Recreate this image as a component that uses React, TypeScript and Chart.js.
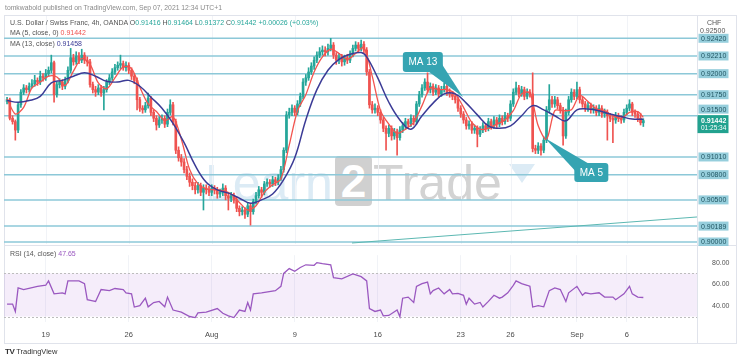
import React, { useEffect, useRef } from 'react';
import { Chart, registerables } from 'chart.js';

Chart.register(...registerables);

// ---------- data ----------
const firstOpen = 0.9167;
const closes = [
  0.9169,0.9147,0.9143,0.9133,0.9163,0.9178,0.9183,0.9181,0.9185,0.9188,
  0.9192,0.9190,0.9197,0.9195,0.9200,0.9204,0.9213,0.9175,0.9187,0.9190,
  0.9185,0.9192,0.9204,0.9219,0.9214,0.9221,0.9216,0.9222,0.9216,0.9214,
  0.9187,0.9181,0.9178,0.9183,0.9177,0.9181,0.9190,0.9195,0.9202,0.9207,
  0.9210,0.9212,0.9207,0.9210,0.9204,0.9197,0.9192,0.9169,0.9159,0.9157,
  0.9162,0.9171,0.9154,0.9147,0.9139,0.9145,0.9147,0.9140,0.9154,0.9163,
  0.9143,0.9109,0.9100,0.9095,0.9086,0.9078,0.9071,0.9067,0.9062,0.9067,
  0.9059,0.9064,0.9062,0.9059,0.9064,0.9062,0.9057,0.9059,0.9064,0.9055,
  0.9052,0.9055,0.9050,0.9040,0.9036,0.9038,0.9033,0.9043,0.9036,0.9048,
  0.9055,0.9062,0.9059,0.9069,0.9071,0.9069,0.9074,0.9071,0.9076,0.9086,
  0.9109,0.9151,0.9154,0.9159,0.9154,0.9164,0.9173,0.9190,0.9195,0.9202,
  0.9209,0.9216,0.9222,0.9226,0.9228,0.9226,0.9230,0.9234,0.9222,0.9216,
  0.9220,0.9214,0.9219,0.9216,0.9223,0.9230,0.9234,0.9230,0.9235,0.9228,
  0.9202,0.9163,0.9157,0.9159,0.9154,0.9145,0.9135,0.9129,0.9135,0.9126,
  0.9131,0.9124,0.9133,0.9138,0.9143,0.9140,0.9147,0.9143,0.9164,0.9175,
  0.9183,0.9190,0.9181,0.9185,0.9178,0.9183,0.9176,0.9181,0.9185,0.9178,
  0.9176,0.9173,0.9169,0.9159,0.9152,0.9145,0.9138,0.9140,0.9133,0.9135,
  0.9128,0.9133,0.9138,0.9135,0.9143,0.9138,0.9145,0.9140,0.9147,0.9143,
  0.9150,0.9147,0.9164,0.9178,0.9183,0.9176,0.9181,0.9173,0.9178,0.9176,
  0.9111,0.9109,0.9114,0.9109,0.9121,0.9157,0.9169,0.9164,0.9169,0.9162,
  0.9157,0.9126,0.9154,0.9169,0.9178,0.9173,0.9181,0.9169,0.9164,0.9159,
  0.9162,0.9157,0.9159,0.9154,0.9159,0.9152,0.9154,0.9150,0.9147,0.9145,
  0.9150,0.9147,0.9145,0.9154,0.9159,0.9164,0.9154,0.9152,0.9147,0.91416,
  0.91442,
];
const highs = [
  0.9172,0.9171,0.9150,0.9145,0.9166,0.9181,0.9187,0.9186,0.9189,0.9193,
  0.9198,0.9195,0.9203,0.9200,0.9205,0.9208,0.9222,0.9215,0.9190,0.9194,
  0.9193,0.9196,0.9208,0.9230,0.9223,0.9226,0.9225,0.9229,0.9225,0.9220,
  0.9217,0.9190,0.9185,0.9187,0.9186,0.9185,0.9193,0.9199,0.9206,0.9211,
  0.9214,0.9222,0.9215,0.9214,0.9213,0.9207,0.9200,0.9195,0.9172,0.9162,
  0.9166,0.9177,0.9173,0.9157,0.9150,0.9149,0.9151,0.9150,0.9158,0.9169,
  0.9166,0.9146,0.9113,0.9104,0.9099,0.9090,0.9082,0.9075,0.9071,0.9071,
  0.9070,0.9068,0.9068,0.9066,0.9068,0.9067,0.9065,0.9063,0.9069,0.9067,
  0.9058,0.9059,0.9058,0.9053,0.9043,0.9042,0.9041,0.9046,0.9046,0.9051,
  0.9059,0.9066,0.9065,0.9072,0.9075,0.9074,0.9078,0.9077,0.9080,0.9090,
  0.9112,0.9155,0.9159,0.9163,0.9162,0.9168,0.9177,0.9194,0.9199,0.9207,
  0.9213,0.9220,0.9226,0.9231,0.9233,0.9232,0.9235,0.9242,0.9237,0.9225,
  0.9224,0.9223,0.9222,0.9223,0.9227,0.9234,0.9238,0.9237,0.9240,0.9238,
  0.9231,0.9205,0.9167,0.9164,0.9162,0.9157,0.9148,0.9138,0.9139,0.9138,
  0.9135,0.9134,0.9137,0.9142,0.9147,0.9146,0.9151,0.9150,0.9167,0.9179,
  0.9187,0.9194,0.9201,0.9189,0.9188,0.9187,0.9186,0.9185,0.9189,0.9188,
  0.9182,0.9179,0.9176,0.9172,0.9162,0.9155,0.9148,0.9144,0.9143,0.9139,
  0.9138,0.9137,0.9142,0.9141,0.9147,0.9146,0.9149,0.9148,0.9151,0.9150,
  0.9154,0.9153,0.9168,0.9182,0.9190,0.9186,0.9185,0.9184,0.9182,0.9181,
  0.9201,0.9115,0.9118,0.9117,0.9125,0.9161,0.9187,0.9173,0.9173,0.9172,
  0.9165,0.9160,0.9158,0.9173,0.9182,0.9181,0.9190,0.9184,0.9172,0.9167,
  0.9166,0.9165,0.9163,0.9162,0.9163,0.9162,0.9158,0.9157,0.9153,0.9150,
  0.9154,0.9153,0.9150,0.9158,0.9163,0.9169,0.9166,0.9157,0.9155,0.9153,
  0.91464,
];
const lows = [
  0.9164,0.9145,0.9140,0.9121,0.9130,0.9160,0.9175,0.9177,0.9178,0.9183,
  0.9185,0.9186,0.9187,0.9191,0.9192,0.9197,0.9201,0.9166,0.9172,0.9183,
  0.9181,0.9182,0.9189,0.9201,0.9210,0.9211,0.9212,0.9213,0.9212,0.9209,
  0.9184,0.9177,0.9173,0.9175,0.9173,0.9157,0.9178,0.9187,0.9192,0.9199,
  0.9204,0.9206,0.9204,0.9203,0.9200,0.9193,0.9188,0.9157,0.9155,0.9153,
  0.9154,0.9159,0.9150,0.9143,0.9133,0.9136,0.9141,0.9136,0.9137,0.9151,
  0.9139,0.9105,0.9096,0.9090,0.9082,0.9074,0.9066,0.9062,0.9057,0.9058,
  0.9055,0.9038,0.9057,0.9055,0.9055,0.9057,0.9052,0.9053,0.9055,0.9050,
  0.9038,0.9048,0.9046,0.9036,0.9031,0.9032,0.9028,0.9030,0.9020,0.9033,
  0.9045,0.9052,0.9053,0.9056,0.9066,0.9065,0.9066,0.9067,0.9068,0.9073,
  0.9083,0.9106,0.9147,0.9150,0.9150,0.9151,0.9161,0.9170,0.9186,0.9192,
  0.9199,0.9205,0.9213,0.9219,0.9222,0.9221,0.9222,0.9227,0.9218,0.9211,
  0.9212,0.9209,0.9210,0.9212,0.9213,0.9220,0.9227,0.9226,0.9227,0.9224,
  0.9198,0.9159,0.9153,0.9153,0.9150,0.9141,0.9131,0.9109,0.9125,0.9121,
  0.9122,0.9103,0.9121,0.9130,0.9134,0.9136,0.9137,0.9139,0.9140,0.9161,
  0.9172,0.9180,0.9177,0.9177,0.9174,0.9175,0.9172,0.9173,0.9178,0.9174,
  0.9172,0.9169,0.9165,0.9155,0.9148,0.9141,0.9134,0.9134,0.9129,0.9129,
  0.9113,0.9125,0.9130,0.9131,0.9132,0.9134,0.9135,0.9136,0.9137,0.9139,
  0.9140,0.9143,0.9144,0.9161,0.9175,0.9172,0.9173,0.9169,0.9170,0.9172,
  0.9107,0.9105,0.9105,0.9103,0.9106,0.9118,0.9154,0.9160,0.9160,0.9158,
  0.9153,0.9115,0.9123,0.9151,0.9166,0.9169,0.9170,0.9165,0.9160,0.9155,
  0.9155,0.9153,0.9153,0.9150,0.9150,0.9148,0.9148,0.9121,0.9143,0.9118,
  0.9141,0.9143,0.9141,0.9142,0.9151,0.9156,0.9150,0.9148,0.9143,0.9139,
  0.91372,
];

const ma5Bars = [0,3,6,9,12,15,18,21,24,27,30,33,36,39,42,45,48,51,54,57,60,63,66,69,72,75,78,81,84,87,90,93,96,99,102,105,108,111,114,117,120,123,126,129,132,135,138,141,144,147,150,153,156,159,162,165,168,171,174,177,180,183,186,189,192,195,198,201,204,207,210,213,216,219,222,225,228,230];
const ma5Values = [0.9170,0.9152,0.9160,0.9183,0.9190,0.9197,0.9196,0.9186,0.9203,0.9218,0.9211,0.9189,0.9182,0.9195,0.9208,0.9206,0.9184,0.9164,0.9155,0.9144,0.9149,0.9122,0.9086,0.9069,0.9063,0.9062,0.9061,0.9057,0.9047,0.9038,0.9043,0.9059,0.9068,0.9075,0.9115,0.9156,0.9175,0.9202,0.9220,0.9229,0.9224,0.9217,0.9224,0.9231,0.9197,0.9156,0.9140,0.9129,0.9134,0.9142,0.9162,0.9183,0.9181,0.9181,0.9176,0.9160,0.9142,0.9134,0.9135,0.9140,0.9145,0.9156,0.9176,0.9177,0.9138,0.9122,0.9156,0.9156,0.9157,0.9174,0.9167,0.9158,0.9156,0.9150,0.9147,0.9154,0.9155,0.9148];

const ma13Bars = [0,4,8,12,16,20,24,28,32,36,40,44,48,52,56,60,64,68,72,76,80,84,88,92,96,100,104,108,112,116,120,124,128,130,134,138,142,146,150,154,158,162,166,170,174,178,182,186,190,194,198,202,206,210,214,218,222,226,230];
const ma13Values = [0.9168,0.9166,0.9168,0.9173,0.9189,0.9192,0.9197,0.9201,0.9197,0.9191,0.9190,0.9192,0.9185,0.9172,0.9159,0.9141,0.9118,0.9091,0.9071,0.9062,0.9058,0.9052,0.9046,0.9050,0.9057,0.9074,0.9100,0.9145,0.9181,0.9204,0.9217,0.9223,0.9225,0.9220,0.9195,0.9166,0.9145,0.9134,0.9150,0.9165,0.9176,0.9176,0.9165,0.9151,0.9138,0.9135,0.9138,0.9150,0.9162,0.9157,0.9150,0.9144,0.9157,0.9158,0.9156,0.9152,0.9149,0.9146,0.91458];

const rsiBars = [0,2,3,4,6,11,14,15,17,20,21,22,26,28,29,31,32,34,37,39,42,43,45,46,48,50,51,53,55,57,58,60,63,66,68,69,72,76,78,80,82,84,86,87,88,89,92,97,99,100,102,104,106,108,111,112,114,117,118,121,125,128,130,131,133,135,136,138,141,142,143,145,147,148,150,152,153,154,156,158,160,161,163,165,166,167,169,171,172,174,176,178,179,181,183,184,186,188,189,190,192,194,196,198,200,202,203,206,208,209,211,214,216,219,220,223,225,226,228,230];
const rsiValues = [41.5,41.5,34.7,56.5,55,58,59,63,51,52,51,63,63,60.5,45.6,44.5,44,55,54,56,55,52,51,38.8,40,47,39,43,44,39,48,36,34,30,29,33.3,34,37.4,33,30.6,29,36,34.7,43,36,51,52,54,58,70,74.5,72,75.5,78,77.5,80,79,78,66,65,69.5,67,63,37.4,34.7,36,30.6,31,36,29.8,47,48,43,58,60.5,62,51,54,56.5,51,55,51,51.5,49.7,41.5,47,41.5,43,38.8,44,49.7,47,48,52,59,63,60.5,59,58,38.8,40,39,54,56.5,55,44,52,58,49.7,52,51,52,48,48,45.6,51,58,51,48,47.65];

const levelValues = [0.9242, 0.9221, 0.92, 0.9175, 0.915, 0.9101, 0.908, 0.905, 0.90189, 0.9];
const levelLabels = ['0.92420','0.92210','0.92000','0.91750','0.91500','0.91010','0.90800','0.90500','0.90189','0.90000'];
const trendBars = [124.7, 249.4];
const trendValues = [0.89988, 0.90297];
const lastPrice = 0.91442;
const lastPriceLabel = '0.91442';
const countdownLabel = '01:25:34';
const topPriceTick = 0.925;
const topPriceLabel = '0.92500';

const dateTickBars = [14, 44, 74, 104, 134, 164, 182, 206, 224];
const dateTickLabels = ['19', '26', 'Aug', '9', '16', '23', '26', 'Sep', '6'];
const rsiTicks = [80, 60, 40];

const calloutTexts = ['MA 13', 'MA 5'];
const calloutBars = [150.3, 211.2];
const calloutPrices = [0.92139, 0.90826];
const calloutTipBars = [164.8, 194.4];
const calloutTipPrices = [0.91723, 0.91236];

// ---------- style ----------
const FONT = "'Liberation Sans', Arial, sans-serif";
const GREEN = '#26a69a';
const RED = '#ef5350';
const MA5_COLOR = '#f2544f';
const MA13_COLOR = '#3b3b96';
const RSI_COLOR = '#9a58c0';
const LEVEL_COLOR = '#8cc8d8';
const CALLOUT_COLOR = '#35a4b2';
const X_MIN = -1.1;
const X_MAX = 249.4;

const mainPlugin = {
  id: 'mainDecor',
  beforeDatasetsDraw(chart: any) {
    const { ctx, chartArea: a, scales } = chart;
    const x = scales.x, y = scales.y;
    ctx.save();
    ctx.strokeStyle = '#f1f3f7';
    ctx.lineWidth = 1;
    dateTickBars.forEach((b) => {
      const px = Math.round(x.getPixelForValue(b)) + 0.5;
      ctx.beginPath(); ctx.moveTo(px, a.top); ctx.lineTo(px, a.bottom); ctx.stroke();
    });
    ctx.strokeStyle = LEVEL_COLOR;
    ctx.lineWidth = 1.5;
    levelValues.forEach((v) => {
      const py = y.getPixelForValue(v);
      ctx.beginPath(); ctx.moveTo(a.left, py); ctx.lineTo(a.right, py); ctx.stroke();
    });
    ctx.restore();
  },
  afterDatasetsDraw(chart: any) {
    const { ctx, scales } = chart;
    const x = scales.x, y = scales.y;
    ctx.save();
    calloutTexts.forEach((t, i) => {
      const cx = x.getPixelForValue(calloutBars[i]);
      const cy = y.getPixelForValue(calloutPrices[i]);
      const tx = x.getPixelForValue(calloutTipBars[i]);
      const ty = y.getPixelForValue(calloutTipPrices[i]);
      const w = i === 0 ? 40 : 34, h = i === 0 ? 20 : 19;
      const L = cx - w / 2, T = cy - h / 2, R = cx + w / 2, B = cy + h / 2;
      ctx.fillStyle = CALLOUT_COLOR;
      ctx.beginPath();
      if (tx > R) { ctx.moveTo(R - 15, B - 1); ctx.lineTo(tx, ty); ctx.lineTo(R - 1, B - 8); }
      else { ctx.moveTo(L + 1, T + 8); ctx.lineTo(tx, ty); ctx.lineTo(L + 15, T + 1); }
      ctx.closePath(); ctx.fill();
      ctx.beginPath();
      (ctx as any).roundRect(L, T, w, h, 3);
      ctx.fill();
      ctx.fillStyle = '#ffffff';
      ctx.font = `10px ${FONT}`;
      ctx.textAlign = 'center'; ctx.textBaseline = 'middle';
      ctx.fillText(t, cx, cy + 0.5);
    });
    ctx.restore();
  },
  afterDraw(chart: any) {
    const { ctx, chartArea: a, scales } = chart;
    const y = scales.y;
    ctx.save();
    ctx.textBaseline = 'middle';
    ctx.textAlign = 'left';
    ctx.font = `7px ${FONT}`;
    ctx.fillStyle = '#555';
    ctx.fillText(topPriceLabel, a.right + 3, y.getPixelForValue(topPriceTick) - 1);
    const lastY = y.getPixelForValue(lastPrice);
    const boxTop = lastY - 5.5;
    levelValues.forEach((v, i) => {
      let ly = y.getPixelForValue(v);
      if (Math.abs(ly - lastY) < 12) ly = boxTop - 6;
      ctx.fillStyle = 'rgba(120,192,210,0.78)';
      ctx.fillRect(a.right + 1.5, ly - 4.5, 30, 9);
      ctx.fillStyle = '#1f5461';
      ctx.fillText(levelLabels[i], a.right + 4, ly + 0.5);
    });
    ctx.fillStyle = '#22a28f';
    ctx.fillRect(a.right + 0.5, boxTop, 31, 18);
    ctx.fillStyle = '#ffffff';
    ctx.font = `bold 7px ${FONT}`;
    ctx.fillText(lastPriceLabel, a.right + 4, lastY + 0.5);
    ctx.font = `6.5px ${FONT}`;
    ctx.fillText(countdownLabel, a.right + 4, lastY + 7.5);
    ctx.restore();
  },
};

const rsiPlugin = {
  id: 'rsiDecor',
  beforeDatasetsDraw(chart: any) {
    const { ctx, chartArea: a, scales } = chart;
    const y = scales.y;
    const y70 = y.getPixelForValue(70), y30 = y.getPixelForValue(30);
    ctx.save();
    ctx.fillStyle = 'rgba(170, 110, 210, 0.12)';
    ctx.fillRect(a.left, y70, a.right - a.left, y30 - y70);
    ctx.strokeStyle = '#bdbdbd';
    ctx.setLineDash([2, 2]);
    ctx.lineWidth = 1;
    [y70, y30].forEach((py) => {
      const p = Math.round(py) + 0.5;
      ctx.beginPath(); ctx.moveTo(a.left, p); ctx.lineTo(a.right, p); ctx.stroke();
    });
    ctx.restore();
  },
};

export default function App() {
  const mainRef = useRef<HTMLCanvasElement>(null);
  const rsiRef = useRef<HTMLCanvasElement>(null);

  useEffect(() => {
    const opens = closes.map((c, i) => (i === 0 ? firstOpen : closes[i - 1]));
    const candleColor = (ctx: any) => (closes[ctx.dataIndex] >= opens[ctx.dataIndex] ? GREEN : RED);

    const main = new Chart(mainRef.current as HTMLCanvasElement, {
      type: 'bar',
      data: {
        datasets: [
          {
            type: 'line', label: 'trend',
            data: trendBars.map((b, i) => ({ x: b, y: trendValues[i] })),
            borderColor: '#5cb8b2', borderWidth: 1, pointRadius: 0, order: 5,
          } as any,
          {
            type: 'bar', label: 'wick',
            data: closes.map((_, i) => ({ x: i, y: [lows[i], highs[i]] })),
            backgroundColor: candleColor, barThickness: 1, grouped: false, borderWidth: 0, order: 4,
          } as any,
          {
            type: 'bar', label: 'body',
            data: closes.map((c, i) => ({ x: i, y: [opens[i], c] })),
            backgroundColor: candleColor, barThickness: 2, grouped: false, borderWidth: 0, minBarLength: 1, order: 3,
          } as any,
          {
            type: 'line', label: 'MA 5',
            data: ma5Bars.map((b, i) => ({ x: b, y: ma5Values[i] })),
            borderColor: MA5_COLOR, borderWidth: 1.3, pointRadius: 0, tension: 0.3, order: 2,
          } as any,
          {
            type: 'line', label: 'MA 13',
            data: ma13Bars.map((b, i) => ({ x: b, y: ma13Values[i] })),
            borderColor: MA13_COLOR, borderWidth: 1.5, pointRadius: 0, tension: 0.4, order: 1,
          } as any,
        ],
      },
      options: {
        responsive: false,
        animation: false,
        events: [],
        layout: { padding: { left: 4, top: 16, bottom: 2, right: 0 } },
        plugins: { legend: { display: false }, tooltip: { enabled: false } },
        scales: {
          x: { type: 'linear', min: X_MIN, max: X_MAX, display: false, offset: false },
          y: {
            position: 'right', min: 0.89976, max: 0.92685,
            grid: { display: false }, border: { display: false },
            ticks: { display: false },
            afterFit: (s: any) => { s.width = 43; },
          },
        },
      } as any,
      plugins: [mainPlugin],
    });

    const rsi = new Chart(rsiRef.current as HTMLCanvasElement, {
      type: 'line',
      data: {
        datasets: [
          {
            label: 'RSI',
            data: rsiBars.map((b, i) => ({ x: b, y: rsiValues[i] })),
            borderColor: RSI_COLOR, borderWidth: 1.3, pointRadius: 0, tension: 0,
          },
        ],
      },
      options: {
        responsive: false,
        animation: false,
        events: [],
        layout: { padding: { left: 4, top: 2, bottom: 0, right: 0 } },
        plugins: { legend: { display: false }, tooltip: { enabled: false } },
        scales: {
          x: {
            type: 'linear', min: X_MIN, max: X_MAX, offset: false,
            grid: { color: '#f1f3f7', drawTicks: false },
            border: { display: false },
            ticks: {
              padding: 8, maxRotation: 0, autoSkip: false, color: '#4a4a4a',
              font: { size: 7.5, family: FONT },
              callback: (v: any) => {
                const k = dateTickBars.indexOf(Number(v));
                return k >= 0 ? dateTickLabels[k] : '';
              },
            },
            afterBuildTicks: (s: any) => { s.ticks = dateTickBars.map((v) => ({ value: v })); },
            afterFit: (s: any) => { s.height = 24; },
          },
          y: {
            position: 'right', min: 24.9, max: 86.9,
            grid: { display: false }, border: { display: false },
            ticks: {
              padding: 7, color: '#555', font: { size: 7, family: FONT },
              callback: (v: any) => Number(v).toFixed(2),
            },
            afterBuildTicks: (s: any) => { s.ticks = rsiTicks.map((v) => ({ value: v })); },
            afterFit: (s: any) => { s.width = 43; },
          },
        },
      } as any,
      plugins: [rsiPlugin],
    });

    return () => { main.destroy(); rsi.destroy(); };
  }, []);

  const abs = (l: number, t: number, extra: any = {}) => ({ position: 'absolute' as const, left: l, top: t, ...extra });
  const txt = { fontFamily: FONT, whiteSpace: 'nowrap' as const, lineHeight: '9px' };

  return (
    <div style={{ position: 'absolute', left: 0, top: 0, width: 740, height: 361, background: '#fff', overflow: 'hidden' }}>
      {/* watermark */}
      <div style={abs(205, 158, { fontFamily: FONT, fontSize: 50, lineHeight: '50px', whiteSpace: 'nowrap', color: '#dcebf5' })}>Learn</div>
      <div style={abs(335, 156, { width: 37, height: 50, background: '#d0d0d0', borderRadius: 4, color: '#fff', fontFamily: FONT, fontWeight: 'bold', fontSize: 46, lineHeight: '50px', textAlign: 'center' })}>2</div>
      <div style={abs(373, 158, { fontFamily: FONT, fontSize: 50, lineHeight: '50px', whiteSpace: 'nowrap', color: '#d3d3d3' })}>Trade</div>
      <div style={abs(509, 164, { width: 0, height: 0, borderLeft: '13px solid transparent', borderRight: '13px solid transparent', borderTop: '19px solid #dcebf5' })} />

      {/* frame */}
      <div style={abs(4, 15, { width: 731, height: 327, border: '1px solid #e0e3eb' })} />
      <div style={abs(697, 15, { width: 1, height: 328, background: '#e0e3eb' })} />
      <div style={abs(4, 245, { width: 732, height: 1, background: '#e0e3eb' })} />

      <canvas ref={mainRef} width={740} height={246} style={abs(0, 0, { width: 740, height: 246 })} />
      <canvas ref={rsiRef} width={740} height={102} style={abs(0, 244, { width: 740, height: 102 })} />

      {/* texts */}
      <div style={abs(5, 3, { ...txt, fontSize: 6.8, color: '#8a8a8a' })}>
        tomkwabold published on TradingView.com, Sep 07, 2021 12:34 UTC+1
      </div>
      <div style={abs(10, 18, { ...txt, fontSize: 7, color: '#555' })}>
        U.S. Dollar / Swiss Franc, 4h, OANDA{'  '}
        O<span style={{ color: GREEN }}>0.91416</span>{' '}
        H<span style={{ color: GREEN }}>0.91464</span>{' '}
        L<span style={{ color: GREEN }}>0.91372</span>{' '}
        C<span style={{ color: GREEN }}>0.91442</span>{' '}
        <span style={{ color: GREEN }}>+0.00026 (+0.03%)</span>
      </div>
      <div style={abs(10, 28, { ...txt, fontSize: 7, color: '#555' })}>
        MA (5, close, 0) <span style={{ color: RED }}>0.91442</span>
      </div>
      <div style={abs(10, 39, { ...txt, fontSize: 7, color: '#555' })}>
        MA (13, close) <span style={{ color: MA13_COLOR }}>0.91458</span>
      </div>
      <div style={abs(707, 18, { ...txt, fontSize: 7, color: '#555' })}>CHF</div>
      <div style={abs(10, 249, { ...txt, fontSize: 7, color: '#555' })}>
        RSI (14, close) <span style={{ color: RSI_COLOR }}>47.65</span>
      </div>
      <div style={abs(5, 347, { ...txt, fontSize: 7.5, color: '#333' })}>
        <b style={{ fontSize: 8, letterSpacing: -0.5 }}>TV</b> TradingView
      </div>
    </div>
  );
}
